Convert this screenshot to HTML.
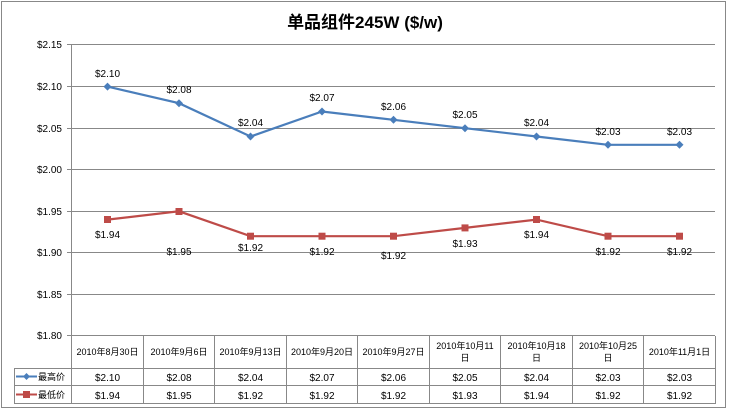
<!DOCTYPE html><html><head><meta charset="utf-8"><style>body{margin:0;background:#fff}svg{display:block}text{font-family:"Liberation Sans","Noto Sans CJK SC",sans-serif}</style></head><body>
<svg width="730" height="411" xmlns="http://www.w3.org/2000/svg">
<rect x="1.5" y="1.5" width="724" height="406" fill="#fff" stroke="#888"/>
<text x="365" y="28" font-size="17" font-weight="bold" text-anchor="middle">单品组件245W ($/w)</text>
<g stroke="#888" stroke-width="1">
<line x1="67" y1="44.5" x2="715" y2="44.5"/><line x1="67" y1="86.5" x2="715" y2="86.5"/><line x1="67" y1="128.5" x2="715" y2="128.5"/><line x1="67" y1="169.5" x2="715" y2="169.5"/><line x1="67" y1="211.5" x2="715" y2="211.5"/><line x1="67" y1="252.5" x2="715" y2="252.5"/><line x1="67" y1="294.5" x2="715" y2="294.5"/><line x1="67" y1="335.5" x2="715" y2="335.5"/>
<line x1="71.5" y1="44" x2="71.5" y2="404"/>
<line x1="14" y1="368.5" x2="715" y2="368.5"/><line x1="14" y1="385.5" x2="715" y2="385.5"/><line x1="14" y1="403.5" x2="715" y2="403.5"/>
<line x1="14.5" y1="368" x2="14.5" y2="404"/>
<line x1="143.5" y1="336" x2="143.5" y2="404"/><line x1="214.5" y1="336" x2="214.5" y2="404"/><line x1="286.5" y1="336" x2="286.5" y2="404"/><line x1="357.5" y1="336" x2="357.5" y2="404"/><line x1="429.5" y1="336" x2="429.5" y2="404"/><line x1="500.5" y1="336" x2="500.5" y2="404"/><line x1="572.5" y1="336" x2="572.5" y2="404"/><line x1="643.5" y1="336" x2="643.5" y2="404"/><line x1="715.5" y1="336" x2="715.5" y2="404"/>
</g>
<g font-size="10" text-anchor="end"><text x="62" y="48">$2.15</text><text x="62" y="90">$2.10</text><text x="62" y="132">$2.05</text><text x="62" y="173">$2.00</text><text x="62" y="215">$1.95</text><text x="62" y="256">$1.90</text><text x="62" y="298">$1.85</text><text x="62" y="339">$1.80</text></g>
<polyline fill="none" stroke="#4a7ebb" stroke-width="2.2" points="107.5,86.6 179,103.2 250.5,136.5 322,111.5 393.5,119.8 465,128.2 536.5,136.5 608,144.8 679.5,144.8"/>
<g fill="#4a7ebb"><path d="M107.5 82.6l4 4-4 4-4-4z"/><path d="M179 99.2l4 4-4 4-4-4z"/><path d="M250.5 132.5l4 4-4 4-4-4z"/><path d="M322 107.5l4 4-4 4-4-4z"/><path d="M393.5 115.8l4 4-4 4-4-4z"/><path d="M465 124.2l4 4-4 4-4-4z"/><path d="M536.5 132.5l4 4-4 4-4-4z"/><path d="M608 140.8l4 4-4 4-4-4z"/><path d="M679.5 140.8l4 4-4 4-4-4z"/></g>
<polyline fill="none" stroke="#be4b48" stroke-width="2.2" points="107.5,219.6 179,211.3 250.5,236.2 322,236.2 393.5,236.2 465,227.9 536.5,219.6 608,236.2 679.5,236.2"/>
<g fill="#be4b48"><rect x="104" y="216" width="7" height="7"/><rect x="175.5" y="208" width="7" height="7"/><rect x="247" y="232.7" width="7" height="7"/><rect x="318.5" y="232.7" width="7" height="7"/><rect x="390" y="232.7" width="7" height="7"/><rect x="461.5" y="224.4" width="7" height="7"/><rect x="533" y="216" width="7" height="7"/><rect x="604.5" y="232.7" width="7" height="7"/><rect x="676" y="232.7" width="7" height="7"/></g>
<g font-size="10" text-anchor="middle">
<text x="107.5" y="77">$2.10</text><text x="179" y="93">$2.08</text><text x="250.5" y="126">$2.04</text><text x="322" y="101">$2.07</text><text x="393.5" y="110">$2.06</text><text x="465" y="118">$2.05</text><text x="536.5" y="126">$2.04</text><text x="608" y="135">$2.03</text><text x="679.5" y="135">$2.03</text>
<text x="107.5" y="238">$1.94</text><text x="179" y="255">$1.95</text><text x="250.5" y="251">$1.92</text><text x="322" y="255">$1.92</text><text x="393.5" y="259">$1.92</text><text x="465" y="247">$1.93</text><text x="536.5" y="238">$1.94</text><text x="608" y="255">$1.92</text><text x="679.5" y="255">$1.92</text>
</g>
<g font-size="9" text-anchor="middle">
<text x="107.5" y="355">2010年8月30日</text><text x="179" y="355">2010年9月6日</text><text x="250.5" y="355">2010年9月13日</text><text x="322" y="355">2010年9月20日</text><text x="393.5" y="355">2010年9月27日</text>
<text x="465" y="349">2010年10月11</text><text x="465" y="361">日</text><text x="536.5" y="349">2010年10月18</text><text x="536.5" y="361">日</text><text x="608" y="349">2010年10月25</text><text x="608" y="361">日</text><text x="679.5" y="355">2010年11月1日</text>
</g>
<g font-size="10" text-anchor="middle">
<text x="107.5" y="381">$2.10</text><text x="179" y="381">$2.08</text><text x="250.5" y="381">$2.04</text><text x="322" y="381">$2.07</text><text x="393.5" y="381">$2.06</text><text x="465" y="381">$2.05</text><text x="536.5" y="381">$2.04</text><text x="608" y="381">$2.03</text><text x="679.5" y="381">$2.03</text>
<text x="107.5" y="399">$1.94</text><text x="179" y="399">$1.95</text><text x="250.5" y="399">$1.92</text><text x="322" y="399">$1.92</text><text x="393.5" y="399">$1.92</text><text x="465" y="399">$1.93</text><text x="536.5" y="399">$1.94</text><text x="608" y="399">$1.92</text><text x="679.5" y="399">$1.92</text>
</g>
<line x1="16" y1="376.5" x2="37" y2="376.5" stroke="#4a7ebb" stroke-width="2"/><path d="M26.5 373l3.5 3.5-3.5 3.5-3.5-3.5z" fill="#4a7ebb"/>
<line x1="16" y1="394.5" x2="37" y2="394.5" stroke="#be4b48" stroke-width="2"/><rect x="23" y="391" width="7" height="7" fill="#be4b48"/>
<g font-size="9"><text x="38" y="380">最高价</text><text x="38" y="398">最低价</text></g>
</svg>
</body></html>
